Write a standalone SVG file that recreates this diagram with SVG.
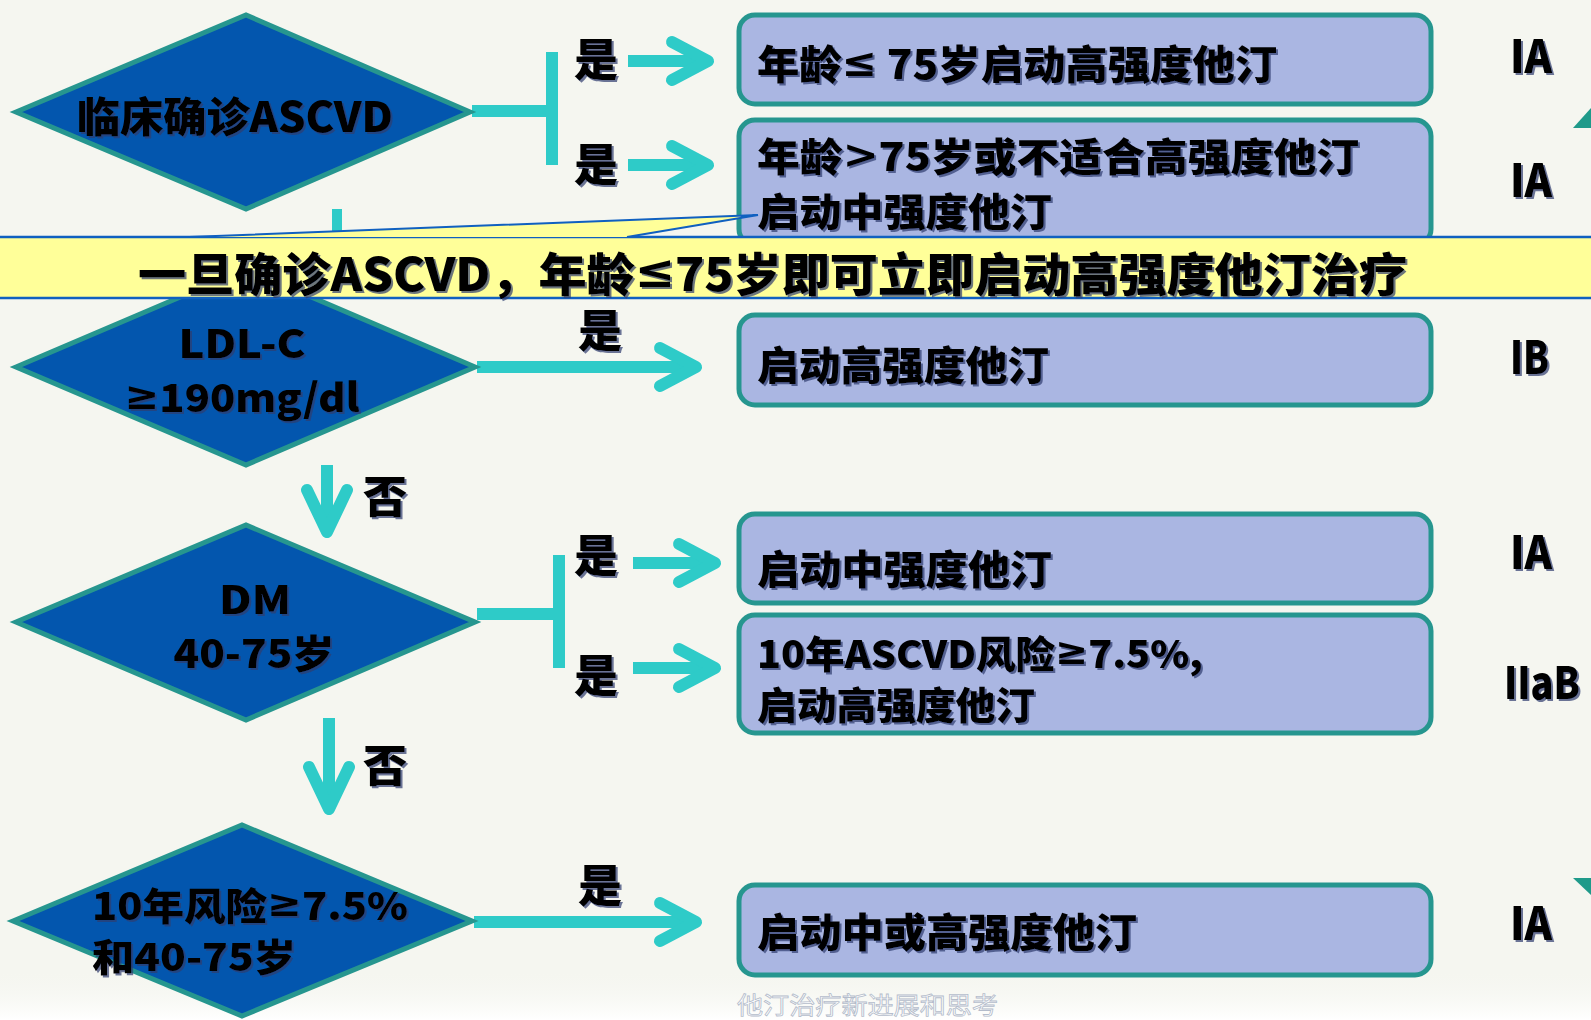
<svg xmlns="http://www.w3.org/2000/svg" width="1591" height="1020" viewBox="0 0 1591 1020">
<defs>
<filter id="sh" x="-5%" y="-20%" width="110%" height="150%"><feDropShadow dx="2" dy="2" stdDeviation="0.7" flood-color="#2f3c6e" flood-opacity="0.7"/></filter>
<linearGradient id="bot" x1="0" y1="0" x2="0" y2="1"><stop offset="0" stop-color="#f5f6f0" stop-opacity="0"/><stop offset="1" stop-color="#ffffff"/></linearGradient>
<style>
.t{font-family:"Noto Sans CJK SC","Noto Sans",sans-serif;font-weight:900;fill:#000;filter:url(#sh);dominant-baseline:central}
.m{font-family:"DejaVu Sans",sans-serif;font-weight:bold}
.dia{fill:#0356ae;stroke:#26968f;stroke-width:5;stroke-linejoin:miter}
.box{fill:#aab6e2;stroke:#26968f;stroke-width:5}
.ln{fill:none;stroke:#2ecbc8;stroke-width:12}
.ah{fill:none;stroke:#2ecbc8;stroke-width:12;stroke-linecap:round;stroke-linejoin:round}
.deco{fill:#1f9a8a}
</style>
</defs>
<rect width="1591" height="1020" fill="#f5f6f0"/>
<rect x="0" y="970" width="1591" height="50" fill="url(#bot)"/>
<polygon class="deco" points="1573,128 1591,108 1591,128"/>
<polygon class="deco" points="1573,878 1591,878 1591,895"/>

<g id="connectors">
<path class="ln" d="M472,111 H552 M552,52 V165"/>
<path class="ln" d="M628,61 H706 M628,165 H706"/>
<path class="ah" d="M672,42 L708,61 L672,80 M672,146 L708,165 L672,184"/>
<path class="ln" d="M337,209 V240" style="stroke-width:10"/>
<path class="ln" d="M477,367 H694"/>
<path class="ah" d="M660,348 L696,367 L660,386"/>
<path class="ln" d="M327,465 V528"/>
<path class="ah" d="M307,490 L327,532 L347,490"/>
<path class="ln" d="M477,614 H559 M559,555 V668"/>
<path class="ln" d="M633,563 H714 M633,668 H714"/>
<path class="ah" d="M679,544 L715,563 L679,582 M679,649 L715,668 L679,687"/>
<path class="ln" d="M329,718 V805"/>
<path class="ah" d="M309,767 L329,809 L349,767"/>
<path class="ln" d="M474,922 H694"/>
<path class="ah" d="M660,903 L696,922 L660,941"/>
</g>

<g id="label-yes1"><text class="t" x="596" y="57" font-size="44" text-anchor="middle">是</text></g>
<g id="label-yes2"><text class="t" x="596" y="162" font-size="44" text-anchor="middle">是</text></g>
<g id="label-yes3"><text class="t" x="600" y="328" font-size="44" text-anchor="middle">是</text></g>
<g id="label-no1"><text class="t" x="385" y="494" font-size="44" text-anchor="middle">否</text></g>
<g id="label-yes4"><text class="t" x="596" y="553" font-size="44" text-anchor="middle">是</text></g>
<g id="label-yes5"><text class="t" x="596" y="673" font-size="44" text-anchor="middle">是</text></g>
<g id="label-no2"><text class="t" x="385" y="763" font-size="44" text-anchor="middle">否</text></g>
<g id="label-yes6"><text class="t" x="600" y="883" font-size="44" text-anchor="middle">是</text></g>

<g id="box1">
<rect class="box" x="739" y="15" width="692" height="89" rx="16"/>
<text class="t" x="757" y="62" font-size="40" textLength="520" lengthAdjust="spacingAndGlyphs">年龄<tspan class="m">≤</tspan> 75岁启动高强度他汀</text>
</g>
<g id="box2">
<rect class="box" x="739" y="120" width="692" height="125" rx="16"/>
<text class="t" x="757" y="154" font-size="39" textLength="602" lengthAdjust="spacingAndGlyphs">年龄<tspan class="m">&gt;</tspan>75岁或不适合高强度他汀</text>
<text class="t" x="757" y="209" font-size="39" textLength="295" lengthAdjust="spacingAndGlyphs">启动中强度他汀</text>
</g>
<g id="box3">
<rect class="box" x="739" y="315" width="692" height="90" rx="16"/>
<text class="t" x="757" y="363" font-size="40" textLength="292" lengthAdjust="spacingAndGlyphs">启动高强度他汀</text>
</g>
<g id="box4">
<rect class="box" x="739" y="514" width="692" height="89" rx="16"/>
<text class="t" x="757" y="567" font-size="40" textLength="295" lengthAdjust="spacingAndGlyphs">启动中强度他汀</text>
</g>
<g id="box5">
<rect class="box" x="739" y="615" width="692" height="118" rx="16"/>
<text class="t" x="757" y="651" font-size="38" textLength="446" lengthAdjust="spacingAndGlyphs">10年ASCVD风险<tspan class="m">≥</tspan>7.5%,</text>
<text class="t" x="757" y="702" font-size="38" textLength="278" lengthAdjust="spacingAndGlyphs">启动高强度他汀</text>
</g>
<g id="box6">
<rect class="box" x="739" y="885" width="692" height="90" rx="16"/>
<text class="t" x="757" y="930" font-size="40" textLength="380" lengthAdjust="spacingAndGlyphs">启动中或高强度他汀</text>
</g>

<g id="diamond1">
<polygon class="dia" points="16,112 246,15 470,112 246,209"/>
<text class="t" x="77" y="114" font-size="41" textLength="316" lengthAdjust="spacingAndGlyphs">临床确诊ASCVD</text>
</g>
<g id="diamond2">
<polygon class="dia" points="16,367 246,269 475,367 246,465"/>
<text class="t" x="242" y="341" font-size="39" text-anchor="middle" textLength="127" lengthAdjust="spacingAndGlyphs">LDL-C</text>
<text class="t" x="242" y="395" font-size="39" text-anchor="middle" textLength="235" lengthAdjust="spacingAndGlyphs"><tspan class="m">≥</tspan>190mg/dl</text>
</g>
<g id="diamond3">
<polygon class="dia" points="16,622 246,525 475,622 246,720"/>
<text class="t" x="255" y="597" font-size="39" text-anchor="middle" textLength="72" lengthAdjust="spacingAndGlyphs">DM</text>
<text class="t" x="254" y="651" font-size="39" text-anchor="middle" textLength="161" lengthAdjust="spacingAndGlyphs">40-75岁</text>
</g>
<g id="diamond4">
<polygon class="dia" points="13,921 242,825 472,921 242,1016"/>
<text class="t" x="92" y="903" font-size="38" textLength="316" lengthAdjust="spacingAndGlyphs">10年风险<tspan class="m">≥</tspan>7.5%</text>
<text class="t" x="92" y="954" font-size="38" textLength="204" lengthAdjust="spacingAndGlyphs">和40-75岁</text>
</g>

<g id="grades">
<text class="t" x="1510" y="53" font-size="46" textLength="42" lengthAdjust="spacingAndGlyphs">IA</text>
<text class="t" x="1510" y="177" font-size="46" textLength="42" lengthAdjust="spacingAndGlyphs">IA</text>
<text class="t" x="1510" y="354" font-size="46" textLength="39" lengthAdjust="spacingAndGlyphs">IB</text>
<text class="t" x="1510" y="549" font-size="46" textLength="42" lengthAdjust="spacingAndGlyphs">IA</text>
<text class="t" x="1504" y="680" font-size="44" textLength="76" lengthAdjust="spacingAndGlyphs">IIaB</text>
<text class="t" x="1510" y="920" font-size="46" textLength="42" lengthAdjust="spacingAndGlyphs">IA</text>
</g>

<g id="callout">
<rect x="0" y="237" width="1591" height="61" fill="#ffff99"/>
<line x1="0" y1="237" x2="1591" y2="237" stroke="#1060c0" stroke-width="2.5"/>
<line x1="0" y1="298" x2="1591" y2="298" stroke="#1060c0" stroke-width="2.5"/>
<polygon points="189,237 758,215 627,237" fill="#ffff99"/>
<polyline points="189,237 758,215 627,237" fill="none" stroke="#1060c0" stroke-width="2"/>
<text class="t" x="138" y="271" font-size="46" textLength="1269" lengthAdjust="spacingAndGlyphs">一旦确诊ASCVD，年龄<tspan class="m">≤</tspan>75岁即可立即启动高强度他汀治疗</text>
</g>

<g id="footer">
<text x="737" y="1003" font-family="'Noto Sans CJK SC','Noto Sans',sans-serif" font-size="24" fill="#ffffff" stroke="#b4bccb" stroke-width="0.8" dominant-baseline="central" textLength="261" lengthAdjust="spacingAndGlyphs">他汀治疗新进展和思考</text>
</g>
</svg>
